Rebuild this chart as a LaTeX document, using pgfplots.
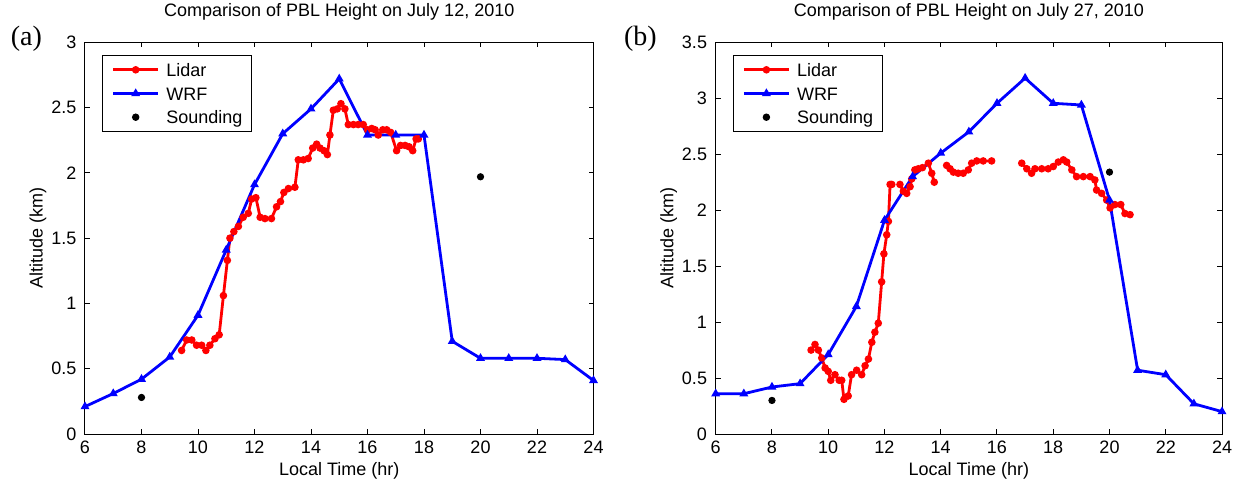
\documentclass[border=0pt]{standalone}
\usepackage{pgfplots}
\pgfplotsset{compat=1.18}
\usepackage{fontspec}
\setmainfont{Liberation Sans}
\newfontfamily\seriffont{Liberation Serif}

\pgfplotsset{
  matlab/.style={
    scale only axis,
    height=195.85pt,
    xmin=6, xmax=24, xtick={6,8,...,24},
    ymin=0,
    tick align=inside,
    major tick length=2.5pt,
    every tick/.style={black, line width=0.5pt},
    axis line style={line width=0.5pt},
    /pgf/number format/assume math mode=true,
    ticklabel style={font=\fontsize{9}{10}\selectfont},
    xticklabel style={anchor=base, yshift=-9.65pt, inner sep=0pt},
    yticklabel style={anchor=east, xshift=-4.15pt, inner sep=0pt},
    title style={at={(axis description cs:0.5,1.0357)}, anchor=base, inner sep=0pt, font=\fontsize{9}{10}\selectfont},
    xlabel style={at={(axis description cs:0.5,-0.1047)}, anchor=base, inner sep=0pt, font=\fontsize{9}{10}\selectfont},
    ylabel style={anchor=base, inner sep=0pt, font=\fontsize{9}{10}\selectfont},
    xlabel={Local Time (hr)},
    ylabel={Altitude (km)},
    legend image code/.code={\draw[mark repeat=2,mark phase=2,#1] plot coordinates {(0pt,0pt) (11.25pt,0pt) (22.5pt,0pt)};},
    legend cell align=left,
    legend style={at={(axis description cs:0,1)}, anchor=north west, xshift=8.5pt, yshift=-6.35pt,
      draw=black, line width=0.5pt, font=\fontsize{9}{10}\selectfont,
      inner xsep=4.65pt, inner ysep=3.9pt, row sep=5.35pt, column sep=3.35pt,
      nodes={inner sep=0pt, text height=6.5pt, text depth=0pt}},
  },
  lidar/.style={red, line width=1.4pt, mark=*, mark size=1.15pt, mark options={solid}},
  wrf/.style={blue, line width=1.4pt, mark=triangle*, mark size=1.2pt, mark options={solid}},
  sound/.style={only marks, black, mark=*, mark size=1.6pt},
}

\begin{document}
\begin{tikzpicture}
\begin{axis}[matlab,
  at={(42.5pt,22.5pt)}, anchor=south west,
  width=254.25pt, ymax=3, ytick={0,0.5,...,3},
  ylabel style={at={(axis description cs:-0.0832,0.5)}},
  title={Comparison of PBL Height on July 12, 2010}]
\addplot[lidar] coordinates {
(9.42,0.64) (9.60,0.72) (9.78,0.72) (9.95,0.68) (10.13,0.68) (10.28,0.64)
(10.42,0.68) (10.60,0.73) (10.75,0.76) (10.90,1.06) (11.04,1.33) (11.13,1.50)
(11.27,1.55) (11.43,1.59) (11.60,1.66) (11.78,1.69) (11.90,1.80) (12.05,1.81)
(12.20,1.66) (12.37,1.65) (12.60,1.65) (12.78,1.74) (12.92,1.78) (13.04,1.85)
(13.20,1.88) (13.43,1.89) (13.55,2.10) (13.73,2.10) (13.90,2.11) (14.06,2.19)
(14.20,2.22) (14.32,2.19) (14.46,2.17) (14.58,2.14) (14.67,2.29) (14.79,2.48)
(14.93,2.49) (15.06,2.53) (15.20,2.49) (15.32,2.37) (15.50,2.37) (15.67,2.37)
(15.85,2.37) (16.00,2.33) (16.15,2.34) (16.27,2.33) (16.38,2.29) (16.54,2.33)
(16.68,2.33) (16.82,2.31) (17.03,2.17) (17.17,2.21) (17.33,2.21) (17.47,2.20)
(17.60,2.17) (17.72,2.26) (17.80,2.26)
};
\addlegendentry{Lidar}
\addplot[wrf] coordinates {
(6,0.21) (7,0.31) (8,0.42) (9,0.59) (10,0.91) (11,1.41) (12,1.91) (13,2.30)
(14,2.49) (15,2.72) (16,2.29) (17,2.29) (18,2.29) (19,0.71) (20,0.58) (21,0.58)
(22,0.58) (23,0.57) (24,0.41)
};
\addlegendentry{WRF}
\addplot[sound] coordinates {(8,0.28) (20,1.97)};
\addlegendentry{Sounding}
\end{axis}

\begin{axis}[matlab,
  at={(357.85pt,22.5pt)}, anchor=south west,
  width=253.15pt, ymax=3.5, ytick={0,0.5,...,3.5},
  ylabel style={at={(axis description cs:-0.0836,0.5)}},
  unbounded coords=jump,
  title={Comparison of PBL Height on July 27, 2010}]
\addplot[lidar] coordinates {
(9.39,0.75) (9.53,0.80) (9.65,0.75) (9.77,0.68) (9.89,0.59) (10.00,0.56)
(10.09,0.48) (10.24,0.53) (10.39,0.48) (10.48,0.48) (10.56,0.31) (10.71,0.34)
(10.83,0.53) (11.01,0.57) (11.19,0.53) (11.31,0.61) (11.43,0.67) (11.55,0.82)
(11.66,0.91) (11.78,0.99) (11.90,1.36) (11.98,1.61) (12.08,1.78) (12.14,1.90)
(12.20,2.23) (12.26,2.23)
(12.40,nan)
(12.55,2.23) (12.67,2.17) (12.79,2.15) (12.91,2.21) (12.97,2.28) (13.08,2.36)
(13.20,2.37) (13.35,2.38) (13.56,2.42) (13.68,2.33) (13.77,2.25)
(14.00,nan)
(14.21,2.40) (14.33,2.37) (14.45,2.34) (14.62,2.33) (14.80,2.33) (14.98,2.36)
(15.10,2.42) (15.28,2.44) (15.51,2.44) (15.81,2.44)
(16.30,nan)
(16.88,2.42) (17.06,2.37) (17.23,2.33) (17.35,2.37) (17.59,2.37) (17.82,2.37)
(18.00,2.39) (18.18,2.43) (18.36,2.45) (18.48,2.43) (18.66,2.36) (18.83,2.30)
(19.07,2.30) (19.31,2.30) (19.48,2.27) (19.54,2.18) (19.72,2.15) (19.90,2.09)
(20.02,2.02) (20.19,2.05) (20.40,2.05) (20.55,1.97) (20.73,1.96)
};
\addlegendentry{Lidar}
\addplot[wrf] coordinates {
(6,0.36) (7,0.36) (8,0.42) (9,0.45) (10,0.71) (11,1.14) (12,1.91) (13,2.30)
(14,2.51) (15,2.70) (16,2.955) (17,3.18) (18,2.955) (19,2.94) (20,2.09) (21,0.57)
(22,0.53) (23,0.27) (24,0.20)
};
\addlegendentry{WRF}
\addplot[sound] coordinates {(8,0.30) (20,2.34)};
\addlegendentry{Sounding}
\end{axis}

\node[anchor=base west, inner sep=0pt, font=\seriffont\fontsize{14}{16}\selectfont] at (5.2pt,217pt) {(a)};
\node[anchor=base west, inner sep=0pt, font=\seriffont\fontsize{14}{16}\selectfont] at (311.8pt,217pt) {(b)};

\pgfresetboundingbox
\path[use as bounding box] (0,0) rectangle (617.5pt,239.5pt);
\end{tikzpicture}
\end{document}
